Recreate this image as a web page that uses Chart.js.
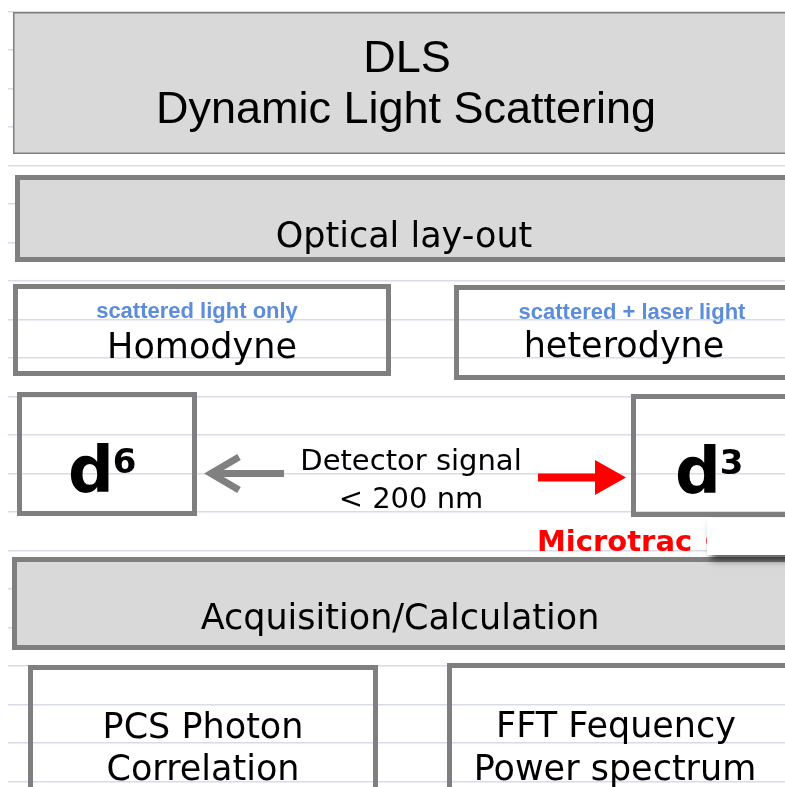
<!DOCTYPE html>
<html lang="en">
<head>
<meta charset="UTF-8">
<title>DLS - Dynamic Light Scattering</title>
<style>
    body { margin: 0; background: #ffffff; }
    #chart { display: block; }
</style>
</head>
<body>
<canvas id="chart" width="785" height="787"></canvas>
<script src="https://cdn.jsdelivr.net/npm/chart.js@4"></script>
<script>
// sheet rows (the faint spreadsheet lines behind the boxes)
var gridRows = [11.5, 50, 88.5, 127, 165.5, 204, 242.5, 281, 319.5, 358, 396.5,
                435, 473.5, 512, 550.5, 589, 627.5, 666, 704.5, 743, 781.5];

// texts of the diagram
var titleLines = ['DLS', 'Dynamic Light Scattering'];
var sectionLabels = ['Optical lay-out', 'Acquisition/Calculation'];
var layoutNames = ['Homodyne', 'heterodyne'];
var layoutNotes = ['scattered light only', 'scattered + laser light'];
var powerLabels = ['6', '3'];
var signalLines = ['Detector signal', '< 200 nm'];
var brandLabel = 'Microtrac \u00a9';
var methodLines = [['PCS Photon', 'Correlation'], ['FFT Fequency', 'Power spectrum']];

var GRAY = '#7f7f7f';
var FILL = '#d9d9d9';
var MAIN_FONT = '"DejaVu Sans", Verdana, sans-serif';

var diagram = {
    id: 'diagram',
    afterDraw: function (chart) {
        var c = chart.ctx;
        var sx = chart.scales.x, sy = chart.scales.y;
        var px = function (v) { return sx.getPixelForValue(v); };
        var py = function (v) { return sy.getPixelForValue(v); };

        function box(x0, y0, x1, y1, lw, fill) {
            var a = px(x0), b = py(y0), w = px(x1) - a, h = py(y1) - b;
            if (fill) {
                c.fillStyle = fill;
                c.fillRect(a, b, w, h);
            }
            c.strokeStyle = GRAY;
            c.lineWidth = lw;
            c.strokeRect(a + lw / 2, b + lw / 2, w - lw, h - lw);
        }
        function text(t, x, y, font, color, align) {
            c.font = font;
            c.fillStyle = color || '#000000';
            c.textAlign = align || 'center';
            c.textBaseline = 'alphabetic';
            c.fillText(t, px(x), py(y));
        }
        function power(base, x, y, sup) {
            c.font = 'bold 64px ' + MAIN_FONT;
            c.fillStyle = '#000000';
            c.textAlign = 'left';
            c.textBaseline = 'alphabetic';
            c.fillText(base, px(x), py(y));
            var w = c.measureText(base).width;
            c.font = 'bold 34px ' + MAIN_FONT;
            c.fillText(sup, px(x) + w - 1, py(y - 19));
        }

        c.save();

        // title block
        box(13, 12, 800, 154, 1.5, FILL);
        text(titleLines[0], 407, 72, '45px "Liberation Sans", Arial, sans-serif');
        text(titleLines[1], 406, 123, '45px "Liberation Sans", Arial, sans-serif');

        // optical lay-out
        box(15, 175, 800, 262, 5, FILL);
        text(sectionLabels[0], 404, 247, '35px ' + MAIN_FONT);

        // homodyne / heterodyne
        box(13, 284, 391, 376, 5, null);
        box(454, 285, 800, 380, 5, null);
        var noteFont = 'bold 22px "Liberation Sans", Arial, sans-serif';
        text(layoutNotes[0], 197, 318, noteFont, '#5b8dd9');
        text(layoutNotes[1], 632, 319, noteFont, '#5b8dd9');
        text(layoutNames[0], 202, 358, '35px ' + MAIN_FONT);
        text(layoutNames[1], 624, 357, '35px ' + MAIN_FONT);

        // d^6 and d^3
        box(17, 392, 197, 516, 5, null);
        box(631, 394, 800, 517, 5, null);
        power('d', 68, 492, powerLabels[0]);
        power('d', 675, 493, powerLabels[1]);

        // detector signal and arrows
        text(signalLines[0], 411, 470, '29px ' + MAIN_FONT);
        text(signalLines[1], 411, 508, '29px ' + MAIN_FONT);

        c.strokeStyle = '#808080';
        c.lineWidth = 7;
        c.lineJoin = 'miter';
        c.beginPath();
        c.moveTo(px(284), py(473.5));
        c.lineTo(px(212), py(473.5));
        c.stroke();
        c.beginPath();
        c.moveTo(px(239), py(457));
        c.lineTo(px(211), py(473.5));
        c.lineTo(px(239), py(490));
        c.stroke();

        c.strokeStyle = '#ff0000';
        c.fillStyle = '#ff0000';
        c.lineWidth = 8;
        c.beginPath();
        c.moveTo(px(538), py(477.5));
        c.lineTo(px(598), py(477.5));
        c.stroke();
        c.beginPath();
        c.moveTo(px(595), py(460));
        c.lineTo(px(626), py(477.5));
        c.lineTo(px(595), py(495));
        c.closePath();
        c.fill();

        text(brandLabel, 537, 551, 'bold 29px ' + MAIN_FONT, '#ff0000', 'left');

        // acquisition / calculation
        box(12, 557, 800, 650, 5, FILL);
        text(sectionLabels[1], 400, 629, '35px ' + MAIN_FONT);

        // pasted white label over the brand text
        c.save();
        c.shadowColor = 'rgba(0,0,0,0.65)';
        c.shadowBlur = 7;
        c.shadowOffsetX = 4;
        c.shadowOffsetY = 5;
        c.fillStyle = '#ffffff';
        c.fillRect(px(707), py(518), px(800) - px(707), py(555) - py(518));
        c.restore();

        // methods
        box(28, 665, 378, 800, 5, null);
        box(447, 663, 800, 800, 5, null);
        text(methodLines[0][0], 203, 738, '35px ' + MAIN_FONT);
        text(methodLines[0][1], 203, 780, '35px ' + MAIN_FONT);
        text(methodLines[1][0], 616, 737, '35px ' + MAIN_FONT);
        text(methodLines[1][1], 615, 780, '35px ' + MAIN_FONT);

        c.restore();
    }
};

new Chart(document.getElementById('chart'), {
    type: 'scatter',
    data: { datasets: [] },
    options: {
        responsive: false,
        animation: false,
        events: [],
        layout: { padding: { left: 8, right: 0, top: 0, bottom: 0 } },
        plugins: { legend: { display: false }, tooltip: { enabled: false } },
        scales: {
            x: { type: 'linear', min: 8, max: 785, display: false },
            y: {
                type: 'linear', min: 0, max: 787, reverse: true,
                border: { display: false },
                ticks: { display: false, padding: 0 },
                grid: { color: '#d8dcea', lineWidth: 1.5, drawTicks: false },
                afterBuildTicks: function (s) {
                    s.ticks = gridRows.map(function (v) { return { value: v }; });
                }
            }
        }
    },
    plugins: [diagram]
});
</script>
</body>
</html>
